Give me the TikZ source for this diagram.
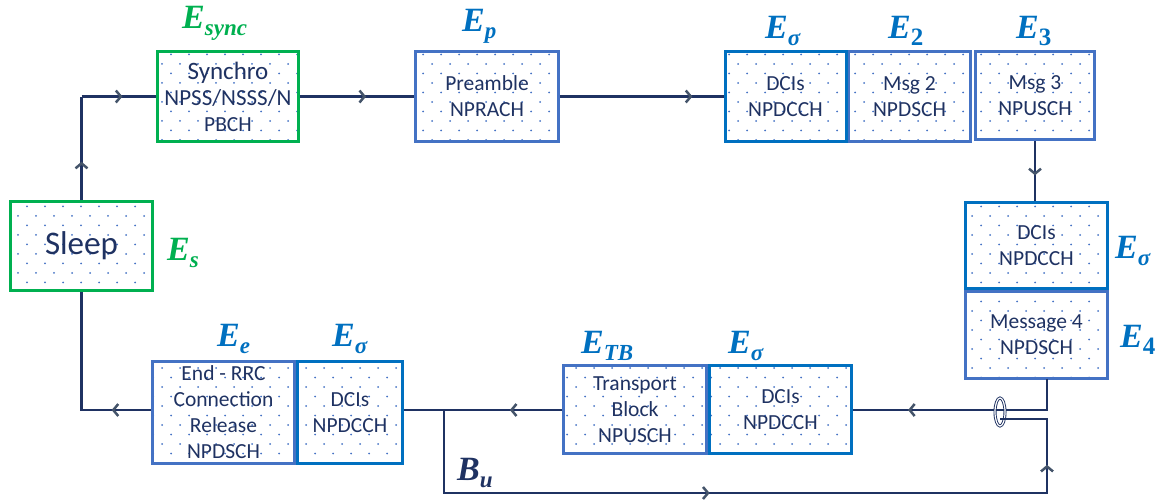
\documentclass[tikz,border=0pt]{standalone}
\usepackage[no-math]{fontspec}
\setmainfont{Carlito}
\newfontfamily\lfont{Liberation Serif}
\usetikzlibrary{patterns.meta,arrows.meta,decorations.markings,shapes.geometric}
\definecolor{navy}{HTML}{1F3262}
\definecolor{arrowgray}{HTML}{44546A}
\definecolor{grn}{HTML}{00B050}
\definecolor{blueA}{HTML}{0070C0}
\definecolor{blueB}{HTML}{4472C4}
\definecolor{dotblue}{HTML}{4472C4}
\newcommand{\elab}[2]{{\fontsize{34}{34}\selectfont\lfont\bfseries\itshape #1}\raisebox{-7pt}{\fontsize{23}{23}\selectfont\lfont\bfseries\itshape #2}}
\newcommand{\elabd}[2]{{\fontsize{34}{34}\selectfont\lfont\bfseries\itshape #1}\raisebox{-7pt}{\fontsize{25}{25}\selectfont\lfont\bfseries #2}}
\tikzdeclarepattern{
  name=stagdots, type=uncolored,
  bottom left={(-1.5pt,-1.5pt)}, top right={(19.5pt,20.5pt)},
  tile size={(18pt,19pt)},
  code={\fill (0pt,0pt) circle (1pt); \fill (9pt,9.5pt) circle (1pt);}
}
\tikzset{
  box/.style={draw, line width=3pt, pattern=stagdots, pattern color=dotblue, align=center,
    inner sep=0pt, text=navy, font=\fontsize{21.5}{26}\selectfont},
  gbox/.style={box, draw=grn},
  lbox/.style={box, draw=blueB},
  dbox/.style={box, draw=blueA},
  conn/.style={draw=navy, line width=2.5pt},
  midarrow/.style={postaction={decorate}, decoration={markings,
    mark=at position #1 with {\arrow{Straight Barb[length=5pt,width=12pt,line width=2.5pt,color=arrowgray]}}}},
  twoarrows/.style 2 args={postaction={decorate}, decoration={markings,
    mark=at position #1 with {\arrow{Straight Barb[length=5pt,width=12pt,line width=2.5pt,color=arrowgray]}},
    mark=at position #2 with {\arrow{Straight Barb[length=5pt,width=12pt,line width=2.5pt,color=arrowgray]}}}},
  lab/.style={text=blueA, anchor=base west, inner sep=0pt},
  loopell/.style={draw=navy, ellipse, line width=0.9pt, double, double distance=1.2pt,
    minimum width=10pt, minimum height=28pt, inner sep=0pt}
}
\begin{document}
\begin{tikzpicture}[x=1pt,y=-1pt]
\useasboundingbox (0,0) rectangle (1164,501);
% boxes
\node[gbox, minimum width=141pt, minimum height=90pt] (sync) at (228,96.5)
  {{\fontsize{25}{27}\selectfont Synchro}\\{\fontsize{23}{26}\selectfont NPSS/NSSS/N}\\PBCH};
\node[lbox, minimum width=143pt, minimum height=90pt] (pre) at (487,96.5) {Preamble\\NPRACH};
\node[lbox, minimum width=122pt, minimum height=90pt] (msg2) at (909.5,96.5) {Msg 2\\NPDSCH};
\node[dbox, minimum width=121pt, minimum height=90pt] (dci1) at (785.5,96.5) {DCIs\\NPDCCH};
\node[lbox, line width=3.5pt, minimum width=119pt, minimum height=88pt] (msg3) at (1035,95.5) {Msg 3\\NPUSCH};
\node[lbox, minimum width=142pt, minimum height=87pt] (msg4) at (1036.5,335) {Message 4\\NPDSCH};
\node[dbox, minimum width=142pt, minimum height=86pt] (dci2) at (1036.5,245.5) {DCIs\\NPDCCH};
\node[gbox, minimum width=142pt, minimum height=89pt, font=\fontsize{33}{36}\selectfont] (sleep) at (81.5,246) {Sleep};
\node[lbox, minimum width=142pt, minimum height=102pt] (endrrc) at (223.5,412.5)
  {End - RRC\\Connection\\Release\\NPDSCH};
\node[dbox, minimum width=105pt, minimum height=102pt] (dci3) at (350,412.5) {DCIs\\NPDCCH};
\node[lbox, minimum width=143pt, minimum height=88pt] (tb) at (635,409.5) {Transport\\Block\\NPUSCH};
\node[dbox, minimum width=142pt, minimum height=88pt] (dci4) at (780.5,409.5) {DCIs\\NPDCCH};
% labels
\node[lab, text=grn] (lsync) at (182,28) {\elab{E}{sync}};
\node[lab] (lp) at (462,31) {\elab{E}{p}};
\node[lab] (ls1) at (765,38) {\elab{E}{σ}};
\node[lab] (l2) at (888,38) {\elabd{E}{2}};
\node[lab] (l3) at (1016,38) {\elabd{E}{3}};
\node[lab] (ls2) at (1115,258) {\elab{E}{σ}};
\node[lab] (l4) at (1120,347) {\elabd{E}{4}};
\node[lab, text=grn] (lsl) at (167,260) {\elab{E}{s}};
\node[lab] (le) at (217,346) {\elab{E}{e}};
\node[lab] (ls3) at (332,346) {\elab{E}{σ}};
\node[lab] (ltb) at (581,353) {\elab{E}{TB}};
\node[lab] (ls4) at (728,353) {\elab{E}{σ}};
\node[lab, text=navy] (lbu) at (457,480) {\elab{B}{u}};
% connectors
\coordinate (c1) at (81.5,96.5);
\draw[conn, midarrow=0.37] (sleep.north) -- (c1);
\draw[conn, midarrow=0.55] (c1) -- (sync.west);
\draw[conn, midarrow=0.58] (sync.east) -- (pre.west);
\draw[conn, midarrow=0.81] (pre.east) -- (dci1.west);
\draw[conn, midarrow=0.57] (msg3.south) -- (msg3.south |- dci2.north);
\coordinate (m4o) at (1047,378.5);
\coordinate (c2) at (1047,410);
\draw[conn, midarrow=0.756] (m4o) -- (c2) -- (dci4.east |- c2);
\node[loopell] (ell) at (1000,412) {};
\coordinate (lr) at (1000,419);
\coordinate (j) at (444,410);
\coordinate (b1) at (444,493);
\coordinate (b2) at (1047,493);
\coordinate (b3) at (1047,419);
\draw[conn, twoarrows={0.432}{0.885}] (j) -- (b1) -- (b2) -- (b3) -- (lr);
\draw[conn, midarrow=0.33] (tb.west |- c2) -- (dci3.east |- c2);
\coordinate (c3) at (81.5,410);
\draw[conn, midarrow=0.21] (endrrc.west |- c3) -- (c3) -- (sleep.south);
\end{tikzpicture}
\end{document}
